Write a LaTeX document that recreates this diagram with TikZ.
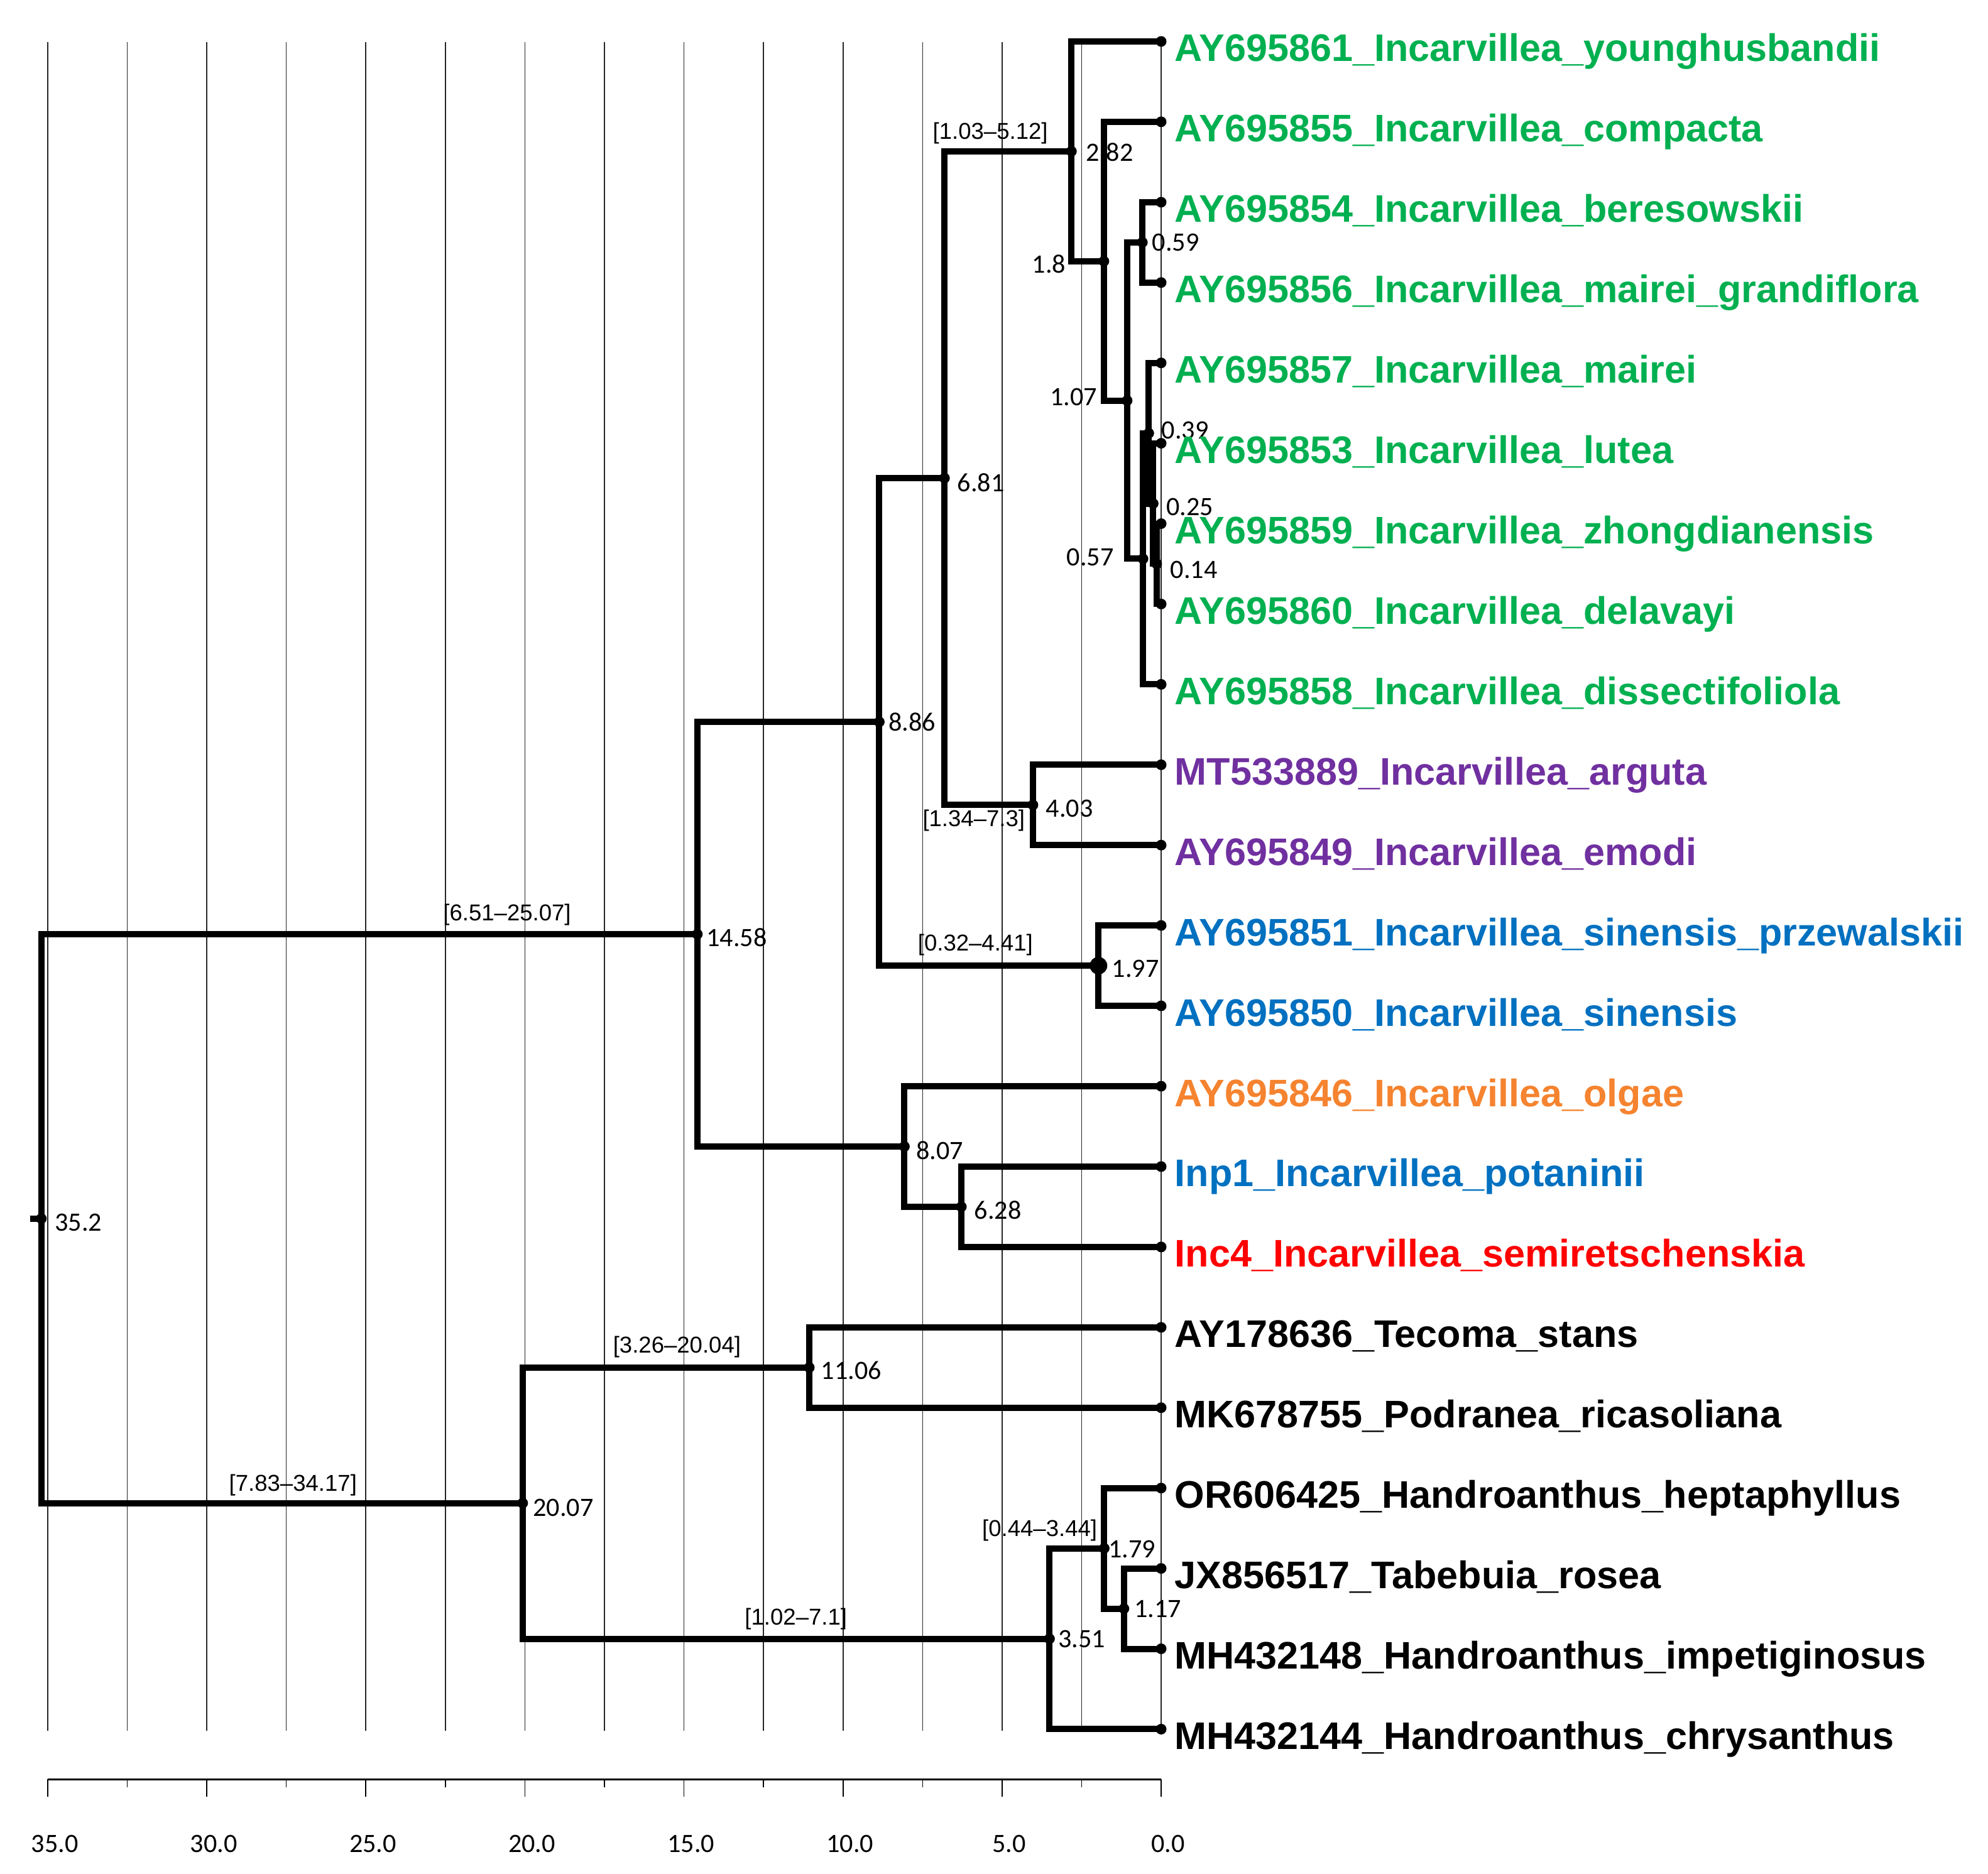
\documentclass[tikz,border=0pt]{standalone}
\usepackage{fontspec}
\setmainfont{Liberation Sans}
\newfontfamily\calib{Carlito}
\definecolor{cgreen}{HTML}{00B050}
\definecolor{cpurple}{HTML}{7030A0}
\definecolor{cblue}{HTML}{0070C0}
\definecolor{corange}{HTML}{F5832F}
\definecolor{cred}{HTML}{FF0000}
\begin{document}
\begin{tikzpicture}[
  br/.style={line width=0.1cm, line join=miter, line cap=rect},
  gridline/.style={line width=0.45pt, black!85},
  dot/.style={circle, fill=black, inner sep=0pt, minimum size=0.17cm},
  bigdot/.style={circle, fill=black, inner sep=0pt, minimum size=0.28cm},
  agel/.style={font=\calib\fontsize{12}{14}\selectfont, inner sep=0pt},
  ci/.style={font=\fontsize{10.4}{12}\selectfont, inner sep=0pt},
  tip/.style={font=\bfseries\fontsize{17.4}{20}\selectfont, inner sep=0pt, anchor=base west},
  axl/.style={font=\calib\fontsize{12}{14}\selectfont, inner sep=0pt},
]
\useasboundingbox (0,0) rectangle (31.64,-29.82);
\begin{scope}[shift={(18.48,0)}, x=-0.5063cm, y=-0.01cm]
% grid
\foreach \a in {0,2.5,...,35.1} \draw[gridline] (\a,67) -- (\a,2757);
% axis
\coordinate (axl) at (35,2834);
\coordinate (axr) at (0,2834);
\draw[line width=0.95pt] (axl) -- (axr);
\foreach \a in {0,5,...,35} \draw[line width=0.45pt] (\a,2834) -- (\a,2862);
\foreach \a in {2.5,7.5,...,32.6} \draw[line width=0.45pt] (\a,2834) -- (\a,2847);
\foreach \v/\l in {35/35.0,30/30.0,25/25.0,20/20.0,15/15.0,10/10.0,5/5.0,0/0.0}
  \node[axl] (ax\v) at ({\v-0.22},2937) {\l};
% tips
\foreach \i in {1,...,22} \coordinate (t\i) at (0,{66+128*(\i-1)});
% internal nodes
\coordinate (n014) at (0.14,898);
\coordinate (n025) at (0.25,802);
\coordinate (n039) at (0.39,690);
\coordinate (n057) at (0.57,890);
\coordinate (n059) at (0.59,386);
\coordinate (n107) at (1.07,638);
\coordinate (n180) at (1.8,416);
\coordinate (n282) at (2.82,241);
\coordinate (n403) at (4.03,1282);
\coordinate (n681) at (6.81,761.5);
\coordinate (n197) at (1.97,1538);
\coordinate (n886) at (8.86,1149.75);
\coordinate (n628) at (6.28,1922);
\coordinate (n807) at (8.07,1826);
\coordinate (n1458) at (14.58,1487.9);
\coordinate (n1106) at (11.06,2178);
\coordinate (n117) at (1.17,2562);
\coordinate (n179) at (1.79,2466);
\coordinate (n351) at (3.51,2610);
\coordinate (n2007) at (20.07,2394);
\coordinate (n352) at (35.2,1940.9);
\coordinate (stub) at (35.45,1940.9);
% branches
\draw[br] (t7) -| (n014) |- (t8);
\draw[br] (t6) -| (n025) |- (n014);
\draw[br] (t5) -| (n039) |- (n025);
\draw[br] (n039) -| (n057) |- (t9);
\draw[br] (t3) -| (n059) |- (t4);
\draw[br] (n059) -| (n107) |- (n057);
\draw[br] (t2) -| (n180) |- (n107);
\draw[br] (t1) -| (n282) |- (n180);
\draw[br] (t10) -| (n403) |- (t11);
\draw[br] (n282) -| (n681) |- (n403);
\draw[br] (t12) -| (n197) |- (t13);
\draw[br] (n681) -| (n886) |- (n197);
\draw[br] (t15) -| (n628) |- (t16);
\draw[br] (t14) -| (n807) |- (n628);
\draw[br] (n886) -| (n1458) |- (n807);
\draw[br] (t17) -| (n1106) |- (t18);
\draw[br] (t20) -| (n117) |- (t21);
\draw[br] (t19) -| (n179) |- (n117);
\draw[br] (n179) -| (n351) |- (t22);
\draw[br] (n1106) -| (n2007) |- (n351);
\draw[br] (n1458) -| (n352) |- (n2007);
\draw[br] (stub) -- (n352);
% dots
\foreach \i in {1,...,22} \node[dot] (dt\i) at (t\i) {};
\foreach \n in {014,025,039,057,059,107,180,282,403,681,886,628,807,1458,1106,117,179,351,2007,352}
  \node[dot] (d\n) at (n\n) {};
\node[bigdot] (d197) at (n197) {};
% age labels
\node[agel,anchor=west] (l282) at ([xshift=0.23cm,yshift=-0.01cm]n282) {2.82};
\node[agel,anchor=west] (l886) at ([xshift=0.14cm]n886) {8.86};
\node[agel,anchor=west] (l403) at ([xshift=0.20cm,yshift=-0.06cm]n403) {4.03};
\node[agel,anchor=west] (l197) at ([xshift=0.21cm,yshift=-0.05cm]n197) {1.97};
\node[agel,anchor=west] (l681) at ([xshift=0.20cm,yshift=-0.075cm]n681) {6.81};
\node[agel,anchor=west] (l1458) at ([xshift=0.14cm,yshift=-0.05cm]n1458) {14.58};
\node[agel,anchor=west] (l1106) at ([xshift=0.18cm,yshift=-0.05cm]n1106) {11.06};
\node[agel,anchor=west] (l2007) at ([xshift=0.16cm,yshift=-0.07cm]n2007) {20.07};
\node[agel,anchor=west] (l807) at ([xshift=0.18cm,yshift=-0.06cm]n807) {8.07};
\node[agel,anchor=west] (l628) at ([xshift=0.20cm,yshift=-0.05cm]n628) {6.28};
\node[agel,anchor=west] (l352) at ([xshift=0.21cm,yshift=-0.06cm]n352) {35.2};
\node[agel,anchor=west] (l351) at ([xshift=0.13cm]n351) {3.51};
\node[agel,anchor=west] (l179) at ([xshift=0.06cm,yshift=-0.01cm]n179) {1.79};
\node[agel,anchor=west] (l117) at ([xshift=0.16cm,yshift=-0.01cm]n117) {1.17};
\node[agel,anchor=west] (l059) at ([xshift=0.15cm]n059) {0.59};
\node[agel,anchor=west] (l039) at ([xshift=0.20cm,yshift=0.05cm]n039) {0.39};
\node[agel,anchor=west] (l025) at ([xshift=0.20cm,yshift=-0.05cm]n025) {0.25};
\node[agel,anchor=west] (l014) at ([xshift=0.21cm,yshift=-0.09cm]n014) {0.14};
\node[agel,anchor=east] (l180) at ([xshift=-0.60cm,yshift=-0.04cm]n180) {1.8};
\node[agel,anchor=east] (l107) at ([xshift=-0.47cm,yshift=0.06cm]n107) {1.07};
\node[agel,anchor=east] (l057) at ([xshift=-0.46cm,yshift=0.03cm]n057) {0.57};
% confidence intervals
\node[ci] (c282) at (5.37,212) {[1.03–5.12]};
\node[ci] (c403) at (5.89,1307) {[1.34–7.3]};
\node[ci] (c197) at (5.84,1505) {[0.32–4.41]};
\node[ci] (c1458) at (20.56,1457) {[6.51–25.07]};
\node[ci] (c1106) at (15.22,2145) {[3.26–20.04]};
\node[ci] (c2007) at (27.29,2365) {[7.83–34.17]};
\node[ci] (c351) at (11.48,2579) {[1.02–7.1]};
\node[ci] (c179) at (3.82,2437) {[0.44–3.44]};
% tip labels
\foreach \i/\c/\t in {
 1/cgreen/AY695861\_Incarvillea\_younghusbandii,
 2/cgreen/AY695855\_Incarvillea\_compacta,
 3/cgreen/AY695854\_Incarvillea\_beresowskii,
 4/cgreen/AY695856\_Incarvillea\_mairei\_grandiflora,
 5/cgreen/AY695857\_Incarvillea\_mairei,
 6/cgreen/AY695853\_Incarvillea\_lutea,
 7/cgreen/AY695859\_Incarvillea\_zhongdianensis,
 8/cgreen/AY695860\_Incarvillea\_delavayi,
 9/cgreen/AY695858\_Incarvillea\_dissectifoliola,
 10/cpurple/MT533889\_Incarvillea\_arguta,
 11/cpurple/AY695849\_Incarvillea\_emodi,
 12/cblue/AY695851\_Incarvillea\_sinensis\_przewalskii,
 13/cblue/AY695850\_Incarvillea\_sinensis,
 14/corange/AY695846\_Incarvillea\_olgae,
 15/cblue/Inp1\_Incarvillea\_potaninii,
 16/cred/Inc4\_Incarvillea\_semiretschenskia,
 17/black/AY178636\_Tecoma\_stans,
 18/black/MK678755\_Podranea\_ricasoliana,
 19/black/OR606425\_Handroanthus\_heptaphyllus,
 20/black/JX856517\_Tabebuia\_rosea,
 21/black/MH432148\_Handroanthus\_impetiginosus,
 22/black/MH432144\_Handroanthus\_chrysanthus}
  \node[tip,text=\c] (tl\i) at ([xshift=0.21cm,yshift=-0.32cm]t\i) {\t};
\end{scope}
\end{tikzpicture}
\end{document}
